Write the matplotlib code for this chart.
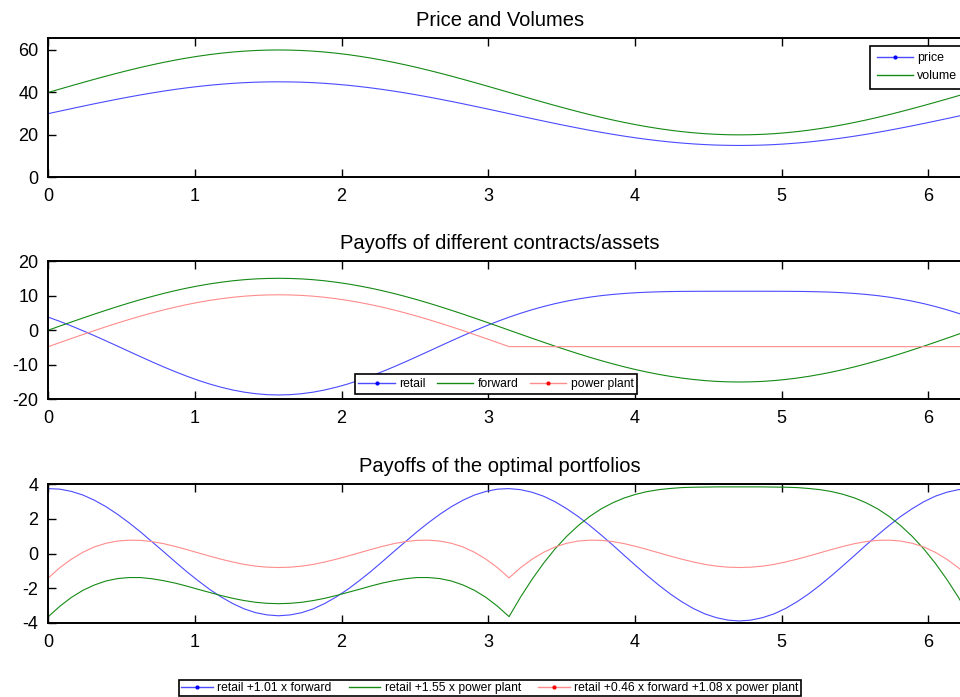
import numpy as np
import matplotlib
matplotlib.use("Agg")
import matplotlib.pyplot as plt
from matplotlib.lines import Line2D

plt.rcParams['font.family'] = ['Liberation Sans', 'DejaVu Sans']

# sample grid over one period
x = np.linspace(0, 2 * np.pi, 81)

price = [30, 31.18, 32.35, 33.50, 34.64, 35.74, 36.81, 37.84, 38.82, 39.74, 40.61,
         41.41, 42.14, 42.79, 43.37, 43.86, 44.27, 44.59, 44.82, 44.95, 45,
         44.95, 44.82, 44.59, 44.27, 43.86, 43.37, 42.79, 42.14, 41.41, 40.61,
         39.74, 38.82, 37.84, 36.81, 35.74, 34.64, 33.50, 32.35, 31.18, 30,
         28.82, 27.65, 26.50, 25.36, 24.26, 23.19, 22.16, 21.18, 20.26, 19.39,
         18.59, 17.86, 17.21, 16.63, 16.14, 15.73, 15.41, 15.18, 15.05, 15,
         15.05, 15.18, 15.41, 15.73, 16.14, 16.63, 17.21, 17.86, 18.59, 19.39,
         20.26, 21.18, 22.16, 23.19, 24.26, 25.36, 26.50, 27.65, 28.82, 30]
volume = [40, 41.57, 43.13, 44.67, 46.18, 47.65, 49.08, 50.45, 51.76, 52.99, 54.14,
          55.21, 56.18, 57.05, 57.82, 58.48, 59.02, 59.45, 59.75, 59.94, 60,
          59.94, 59.75, 59.45, 59.02, 58.48, 57.82, 57.05, 56.18, 55.21, 54.14,
          52.99, 51.76, 50.45, 49.08, 47.65, 46.18, 44.67, 43.13, 41.57, 40,
          38.43, 36.87, 35.33, 33.82, 32.35, 30.92, 29.55, 28.24, 27.01, 25.86,
          24.79, 23.82, 22.95, 22.18, 21.52, 20.98, 20.55, 20.25, 20.06, 20,
          20.06, 20.25, 20.55, 20.98, 21.52, 22.18, 22.95, 23.82, 24.79, 25.86,
          27.01, 28.24, 29.55, 30.92, 32.35, 33.82, 35.33, 36.87, 38.43, 40]

retail = [3.75, 2.53, 1.22, -0.16, -1.60, -3.09, -4.61, -6.14, -7.66, -9.16, -10.61,
          -11.99, -13.29, -14.49, -15.57, -16.51, -17.30, -17.93, -18.38, -18.66, -18.75,
          -18.66, -18.38, -17.93, -17.30, -16.51, -15.57, -14.49, -13.29, -11.99, -10.61,
          -9.16, -7.66, -6.14, -4.61, -3.09, -1.60, -0.16, 1.22, 2.53, 3.75,
          4.88, 5.91, 6.84, 7.67, 8.39, 9.01, 9.54, 9.98, 10.33, 10.61,
          10.82, 10.98, 11.09, 11.16, 11.21, 11.23, 11.24, 11.25, 11.25, 11.25,
          11.25, 11.25, 11.24, 11.23, 11.21, 11.16, 11.09, 10.98, 10.82, 10.61,
          10.33, 9.98, 9.54, 9.01, 8.39, 7.67, 6.84, 5.91, 4.88, 3.75]
forward = [0, 1.18, 2.35, 3.50, 4.64, 5.74, 6.81, 7.84, 8.82, 9.74, 10.61,
           11.41, 12.14, 12.79, 13.37, 13.86, 14.27, 14.59, 14.82, 14.95, 15,
           14.95, 14.82, 14.59, 14.27, 13.86, 13.37, 12.79, 12.14, 11.41, 10.61,
           9.74, 8.82, 7.84, 6.81, 5.74, 4.64, 3.50, 2.35, 1.18, 0,
           -1.18, -2.35, -3.50, -4.64, -5.74, -6.81, -7.84, -8.82, -9.74, -10.61,
           -11.41, -12.14, -12.79, -13.37, -13.86, -14.27, -14.59, -14.82, -14.95, -15,
           -14.95, -14.82, -14.59, -14.27, -13.86, -13.37, -12.79, -12.14, -11.41, -10.61,
           -9.74, -8.82, -7.84, -6.81, -5.74, -4.64, -3.50, -2.35, -1.18, 0]
power_plant = [-4.77, -3.59, -2.42, -1.27, -0.13, 0.97, 2.04, 3.07, 4.05, 4.97, 5.84,
               6.64, 7.37, 8.02, 8.60, 9.09, 9.50, 9.82, 10.05, 10.18, 10.23,
               10.18, 10.05, 9.82, 9.50, 9.09, 8.60, 8.02, 7.37, 6.64, 5.84,
               4.97, 4.05, 3.07, 2.04, 0.97, -0.13, -1.27, -2.42, -3.59, -4.77,
               -4.77, -4.77, -4.77, -4.77, -4.77, -4.77, -4.77, -4.77, -4.77, -4.77,
               -4.77, -4.77, -4.77, -4.77, -4.77, -4.77, -4.77, -4.77, -4.77, -4.77,
               -4.77, -4.77, -4.77, -4.77, -4.77, -4.77, -4.77, -4.77, -4.77, -4.77,
               -4.77, -4.77, -4.77, -4.77, -4.77, -4.77, -4.77, -4.77, -4.77, -4.77]

port_fwd = [3.75, 3.72, 3.59, 3.38, 3.08, 2.71, 2.27, 1.78, 1.25, 0.68, 0.11,
            -0.47, -1.04, -1.57, -2.07, -2.51, -2.89, -3.20, -3.42, -3.55, -3.60,
            -3.55, -3.42, -3.20, -2.89, -2.51, -2.07, -1.57, -1.04, -0.47, 0.11,
            0.68, 1.25, 1.78, 2.27, 2.71, 3.08, 3.38, 3.59, 3.72, 3.75,
            3.69, 3.54, 3.31, 2.99, 2.59, 2.14, 1.62, 1.07, 0.49, -0.11,
            -0.70, -1.28, -1.83, -2.34, -2.79, -3.18, -3.49, -3.71, -3.85, -3.90,
            -3.85, -3.71, -3.49, -3.18, -2.79, -2.34, -1.83, -1.28, -0.70, -0.11,
            0.49, 1.07, 1.62, 2.14, 2.59, 2.99, 3.31, 3.54, 3.69, 3.75]
port_pp = [-3.65, -3.05, -2.54, -2.13, -1.82, -1.59, -1.45, -1.39, -1.39, -1.46, -1.57,
           -1.71, -1.88, -2.07, -2.25, -2.43, -2.59, -2.72, -2.82, -2.88, -2.90,
           -2.88, -2.82, -2.72, -2.59, -2.43, -2.25, -2.07, -1.88, -1.71, -1.57,
           -1.46, -1.39, -1.39, -1.45, -1.59, -1.82, -2.13, -2.54, -3.05, -3.65,
           -2.52, -1.49, -0.56, 0.27, 0.99, 1.61, 2.14, 2.58, 2.93, 3.21,
           3.42, 3.58, 3.69, 3.76, 3.81, 3.83, 3.84, 3.85, 3.85, 3.85,
           3.85, 3.85, 3.84, 3.83, 3.81, 3.76, 3.69, 3.58, 3.42, 3.21,
           2.93, 2.58, 2.14, 1.61, 0.99, 0.27, -0.56, -1.49, -2.52, -3.65]
port_mix = [-1.41, -0.82, -0.33, 0.07, 0.38, 0.59, 0.72, 0.77, 0.76, 0.69, 0.57,
            0.41, 0.23, 0.04, -0.15, -0.33, -0.49, -0.63, -0.73, -0.79, -0.81,
            -0.79, -0.73, -0.63, -0.49, -0.33, -0.15, 0.04, 0.23, 0.41, 0.57,
            0.69, 0.76, 0.77, 0.72, 0.59, 0.38, 0.07, -0.33, -0.82, -1.41,
            -0.82, -0.33, 0.07, 0.38, 0.59, 0.72, 0.77, 0.76, 0.69, 0.57,
            0.41, 0.23, 0.04, -0.15, -0.33, -0.49, -0.63, -0.73, -0.79, -0.81,
            -0.79, -0.73, -0.63, -0.49, -0.33, -0.15, 0.04, 0.23, 0.41, 0.57,
            0.69, 0.76, 0.77, 0.72, 0.59, 0.38, 0.07, -0.33, -0.82, -1.41]

titles = ["Price and Volumes", "Payoffs of different contracts/assets",
          "Payoffs of the optimal portfolios"]
labels_top = ["price", "volume"]
labels_mid = ["retail", "forward", "power plant"]
labels_bot = ["retail +1.01 x forward", "retail +1.55 x power plant",
              "retail +0.46 x forward +1.08 x power plant"]
x_ticks = [0, 1, 2, 3, 4, 5, 6]
y_ticks = [[0, 20, 40, 60], [-20, -10, 0, 10, 20], [-4, -2, 0, 2, 4]]
y_limits = [(0, 65.5), (-20, 20), (-4, 4)]

BLUE, GREEN, RED = '#4b4bff', '#158a15', '#ff8c8c'
LW = 0.8

W, H = 960, 697
fig = plt.figure(figsize=(W / 100, H / 100), dpi=100)

left = 48.3 / W
width = (969.8 - 48.3) / W
rows = [(38.3, 177.3), (261.0, 399.3), (484.3, 622.7)]
axes = []
for top, bot in rows:
    ax = fig.add_axes([left, 1 - bot / H, width, (bot - top) / H])
    axes.append(ax)

ax1, ax2, ax3 = axes
ax1.plot(x, price, color=BLUE, lw=LW)
ax1.plot(x, volume, color=GREEN, lw=LW)

ax2.plot(x, retail, color=BLUE, lw=LW)
ax2.plot(x, forward, color=GREEN, lw=LW)
ax2.plot(x, power_plant, color=RED, lw=LW)

ax3.plot(x, port_fwd, color=BLUE, lw=LW)
ax3.plot(x, port_pp, color=GREEN, lw=LW)
ax3.plot(x, port_mix, color=RED, lw=LW)

for i, ax in enumerate(axes):
    ax.set_xlim(0, 2 * np.pi)
    ax.set_ylim(*y_limits[i])
    ax.set_xticks(x_ticks)
    ax.set_yticks(y_ticks[i])
    ax.set_xticklabels([str(t) for t in x_ticks])
    ax.set_yticklabels([str(t) for t in y_ticks[i]])
    ax.tick_params(direction='in', length=6, width=1.0, top=True, right=True,
                   labelsize=13, colors='black')
    ax.tick_params(axis='y', pad=7)
    ax.tick_params(axis='x', pad=8)
    for sp in ax.spines.values():
        sp.set_linewidth(1.4)
    ax.set_title(titles[i], fontsize=14.5, x=0.49, pad=8.5)


def handle(color, dot):
    if dot:
        return Line2D([], [], color=color, lw=1.0, marker='.', markersize=4,
                      markerfacecolor=dot, markeredgecolor=dot)
    return Line2D([], [], color=color, lw=1.0)


leg_kw = dict(frameon=True, fancybox=False, framealpha=1,
              edgecolor='black', numpoints=1,
              borderaxespad=0, bbox_transform=fig.transFigure)

l1 = ax1.legend([handle(BLUE, '#0000ff'), handle(GREEN, None)], labels_top,
                loc='upper left', bbox_to_anchor=(870 / W, 1 - 45.5 / H),
                fontsize=8.9, labelspacing=0.45, borderpad=0.55,
                handlelength=2.9, handletextpad=0.35, **leg_kw)
l2 = ax2.legend([handle(BLUE, '#0000ff'), handle(GREEN, None), handle(RED, '#ff0000')],
                labels_mid, loc='center', bbox_to_anchor=(496 / W, 1 - 384 / H),
                fontsize=8.7, ncol=3, columnspacing=0.9, borderpad=0.3,
                handlelength=3.0, handletextpad=0.4, **leg_kw)
l3 = ax3.legend([handle(BLUE, '#0000ff'), handle(GREEN, None), handle(RED, '#ff0000')],
                labels_bot, loc='center', bbox_to_anchor=(490 / W, 1 - 688 / H),
                fontsize=8.7, ncol=3, columnspacing=1.4, borderpad=0.15,
                handlelength=2.6, handletextpad=0.4, **leg_kw)
for lg in (l1, l2, l3):
    lg.get_frame().set_linewidth(1.2)

fig.savefig("out.png", dpi=100)
